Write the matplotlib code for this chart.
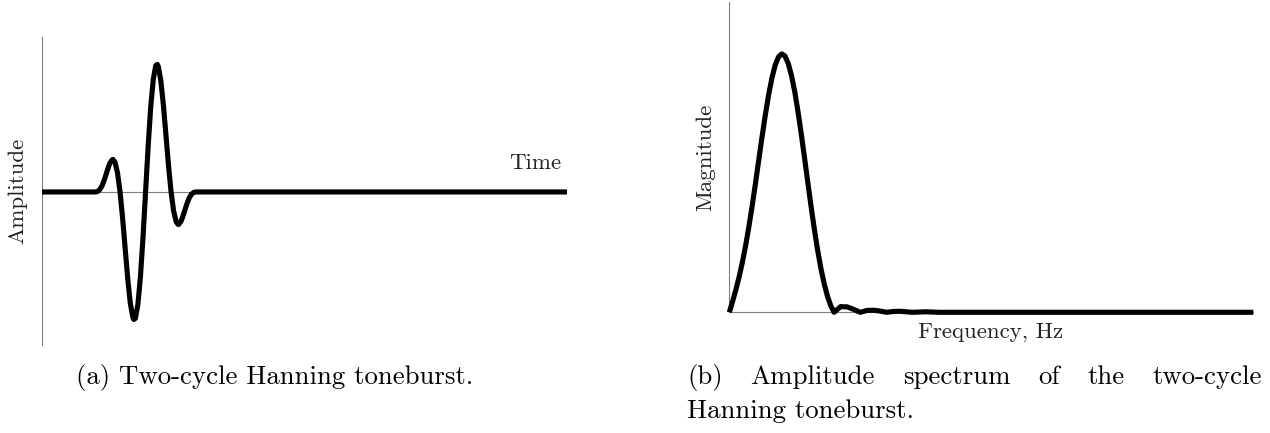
import matplotlib
matplotlib.use("Agg")
import matplotlib.pyplot as plt

plt.rcParams['font.family'] = ['cmr10', 'DejaVu Serif']
plt.rcParams['axes.formatter.use_mathtext'] = True

# toneburst samples, time in microseconds
time_us = [-0.3, 10.0, 10.5, 11.0, 11.5, 12.0, 12.5, 13.0, 13.5, 13.6, 14.0, 14.5,
           15.0, 15.5, 16.0, 16.5, 17.0, 17.5, 17.7, 18.0, 18.5, 19.0, 19.5,
           20.0, 20.5, 21.0, 21.5, 22.0, 22.3, 22.5, 23.0, 23.5, 24.0, 24.5,
           25.0, 25.5, 26.0, 26.4, 26.5, 27.0, 27.5, 28.0, 28.5, 29.0, 29.5,
           30.0, 102.6]
amplitude = [0.0, 0.0, 0.002, 0.017, 0.051, 0.105, 0.169, 0.226, 0.254, 0.255, 0.234, 0.150,
             0.0, -0.206, -0.443, -0.678, -0.870, -0.983, -1.0, -0.991, -0.881, -0.661, -0.354,
             0.0, 0.354, 0.661, 0.881, 0.991, 1.0, 0.983, 0.870, 0.678, 0.443, 0.206,
             0.0, -0.150, -0.234, -0.255, -0.254, -0.226, -0.169, -0.105, -0.051, -0.017, -0.002,
             0.0, 0.0]

# amplitude spectrum, frequency in kHz
freq_khz = [0, 6.25, 12.5, 18.75, 25, 31.25, 37.5, 43.75, 50, 56.25, 62.5, 68.75,
            75, 81.25, 87.5, 93.75, 100, 106.25, 112.5, 118.75, 125, 131.25,
            137.5, 143.75, 150, 156.25, 162.5, 168.75, 175, 181.25, 187.5, 193.75,
            200, 212.5, 225, 237.5, 250, 262.5, 275, 287.5, 300,
            312.5, 325, 337.5, 350, 375, 400, 1000]
magnitude = [0.0, 0.042, 0.087, 0.137, 0.194, 0.259, 0.333, 0.413, 0.500, 0.590, 0.679, 0.764,
             0.841, 0.906, 0.956, 0.988, 1.000, 0.992, 0.963, 0.916, 0.853, 0.775,
             0.688, 0.595, 0.500, 0.407, 0.319, 0.238, 0.168, 0.109, 0.061, 0.025,
             0.0, 0.022, 0.021, 0.011, 0.0, 0.007, 0.008, 0.005, 0.0,
             0.003, 0.004, 0.002, 0.0, 0.002, 0.0, 0.0]

W, H = 1270, 433
axis_grey = '#808080'
text_col = '#222222'
lw_curve = 3.7
label_size = 16.5
cap_size = 19.3


def px(x, y):
    # pixel position from top-left -> figure fraction
    return x / W, 1 - y / H


fig = plt.figure(figsize=(W / 100, H / 100), dpi=100)

# (a) time signal
ax0 = fig.add_axes([42 / W, (H - 345) / H, 525 / W, 308 / H])
ax0.axhline(0, color=axis_grey, lw=0.8, zorder=1)
ax0.plot(time_us, amplitude, color='black', lw=lw_curve, solid_capstyle='butt',
         solid_joinstyle='round', zorder=3, clip_on=False)
ax0.set_xlim(-0.3, 102.6)
ax0.set_ylim(-1.20, 1.215)
for s in ['top', 'right', 'bottom']:
    ax0.spines[s].set_visible(False)
ax0.spines['left'].set_color(axis_grey)
ax0.spines['left'].set_linewidth(0.8)
ax0.set_xticks([])
ax0.set_yticks([])
ax0.patch.set_alpha(0)
ax0.text(101.46, 0.18, 'Time', ha='right', va='baseline', fontsize=label_size, color=text_col)

# (b) spectrum
ax1 = fig.add_axes([729.3 / W, (H - 312.3) / H, 524 / W, 310.3 / H])
ax1.plot(freq_khz, magnitude, color='black', lw=lw_curve, solid_capstyle='butt',
         solid_joinstyle='round', zorder=3, clip_on=False)
ax1.set_xlim(0, 1000)
ax1.set_ylim(0, 1.201)
for s in ['top', 'right']:
    ax1.spines[s].set_visible(False)
for s in ['left', 'bottom']:
    ax1.spines[s].set_color(axis_grey)
    ax1.spines[s].set_linewidth(0.8)
ax1.set_xticks([])
ax1.set_yticks([])
ax1.patch.set_alpha(0)

fig.text(*px(17.5, 191), 'Amplitude', rotation=90, ha='center', va='center',
         fontsize=label_size, color=text_col)
fig.text(*px(705, 157.5), 'Magnitude', rotation=90, ha='center', va='center',
         fontsize=label_size, color=text_col)
fig.text(*px(991, 338), 'Frequency, Hz', ha='center', va='baseline',
         fontsize=label_size, color=text_col)

# captions
fig.text(*px(76, 384), '(a) Two-cycle Hanning toneburst.', ha='left', va='baseline',
         fontsize=cap_size, color='black')

# first line of caption (b) is justified between x0 and x1
words = ['(b)', 'Amplitude', 'spectrum', 'of', 'the', 'two-cycle']
x0, x1 = 687, 1262
renderer = fig.canvas.get_renderer()
widths = []
for w in words:
    t = fig.text(0, 0, w, fontsize=cap_size)
    widths.append(t.get_window_extent(renderer).width)
    t.remove()
gap = (x1 - x0 - sum(widths)) / (len(words) - 1)
xpos = x0
for w, wd in zip(words, widths):
    fig.text(*px(xpos, 384), w, ha='left', va='baseline', fontsize=cap_size, color='black')
    xpos += wd + gap
fig.text(*px(x0, 418), 'Hanning toneburst.', ha='left', va='baseline',
         fontsize=cap_size, color='black')

fig.savefig('out.png', dpi=100)
